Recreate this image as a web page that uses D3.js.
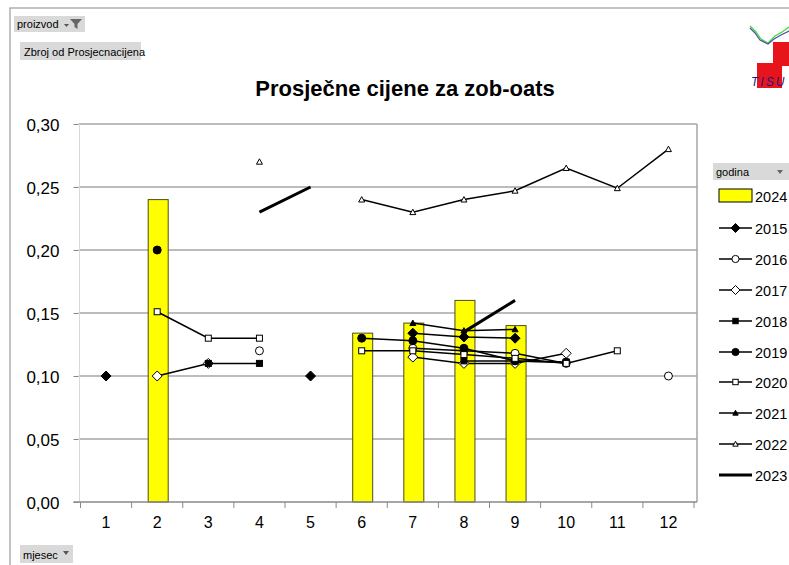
<!DOCTYPE html>
<html><head><meta charset="utf-8">
<script src="https://cdn.jsdelivr.net/npm/d3@7/dist/d3.min.js"></script>
<style>body{margin:0;background:#fff}svg{display:block;font-family:"Liberation Sans",Arial,sans-serif}</style>
</head><body><svg id="c" width="789" height="565"></svg>
<script>
const months = [1,2,3,4,5,6,7,8,9,10,11,12];
const yTicks = [0,0.05,0.10,0.15,0.20,0.25,0.30];
const bar2024 = [null,0.24,null,null,null,0.134,0.142,0.160,0.140,null,null,null];
const s2015 = [0.10,null,null,null,0.10,null,0.134,0.131,0.130,null,null,null];
const s2016 = [null,null,null,0.12,null,null,0.122,0.120,0.118,0.110,null,0.10];
const s2017 = [null,0.10,0.11,null,null,null,0.115,0.110,0.110,0.118,null,null];
const s2018 = [null,null,0.11,0.11,null,null,null,0.112,0.112,0.111,null,null];
const s2019 = [null,0.20,null,null,null,0.130,0.128,0.122,0.112,0.111,null,null];
const s2020 = [null,0.151,0.13,0.13,null,0.12,0.12,0.117,0.114,0.110,0.12,null];
const s2021 = [null,null,null,null,null,null,0.142,0.136,0.137,null,null,null];
const s2022 = [null,null,null,0.27,null,0.24,0.23,0.24,0.247,0.265,0.249,0.28];
const s2023 = [null,null,null,0.23,0.25,null,null,0.135,0.16,null,null,null];
const seriesNames = ["2015","2016","2017","2018","2019","2020","2021","2022","2023"];
const seriesVals = [s2015,s2016,s2017,s2018,s2019,s2020,s2021,s2022,s2023];
const markers = ["diamondF","circleO","diamondO","squareF","circleF","squareO","triF","triO","none"];

const svg = d3.select("#c");
svg.append("path").attr("d","M10,565 V8 H789").attr("fill","none").attr("stroke","#b0b0b0").attr("stroke-width",1.5);

const L=80.5,R=694,T=124,B=502;
const x = d3.scaleBand().domain(months).range([L,R]);
const y = d3.scaleLinear().domain([0,0.30]).range([B,T]);

svg.append("g").selectAll("line").data(yTicks.slice(1)).join("line")
 .attr("x1",L-2).attr("x2",R+3).attr("y1",d=>y(d)).attr("y2",d=>y(d))
 .attr("stroke","#a6a6a6").attr("stroke-width",1.5);
svg.append("line").attr("x1",L-1).attr("x2",L-1).attr("y1",T).attr("y2",B).attr("stroke","#d8d8d8");
svg.append("line").attr("x1",R+3).attr("x2",R+3).attr("y1",T).attr("y2",B).attr("stroke","#a6a6a6").attr("stroke-width",1.5);

const ya = svg.append("g").attr("transform",`translate(${L-2},0)`)
 .call(d3.axisLeft(y).tickValues(yTicks).tickFormat(d=>d3.format(".2f")(d).replace(".",",")).tickSize(5).tickPadding(14));
ya.select(".domain").remove();
ya.selectAll("line").attr("stroke","#888");
ya.selectAll("text").attr("font-size",17).attr("fill","#000").attr("font-family","Liberation Sans").attr("dy","0.36em");

const bw = 20;
svg.append("g").selectAll("rect").data(months.map((m,i)=>({m,v:bar2024[i]})).filter(d=>d.v!=null)).join("rect")
 .attr("x",d=>x(d.m)+x.bandwidth()/2-bw/2+1).attr("width",bw)
 .attr("y",d=>y(d.v)).attr("height",d=>B-y(d.v))
 .attr("fill","#ffff00").attr("stroke","#4d4d1a").attr("stroke-width",1);

const xa = svg.append("g").attr("transform",`translate(0,${B})`);
xa.append("line").attr("x1",L-7).attr("x2",R+3).attr("y1",0).attr("y2",0).attr("stroke","#888").attr("stroke-width",1.5);
xa.selectAll("line.t").data(months.concat([13])).join("line").attr("class","t")
 .attr("x1",(d)=>d<=12?x(d):R).attr("x2",(d)=>d<=12?x(d):R).attr("y1",0).attr("y2",6).attr("stroke","#888");
xa.selectAll("text").data(months).join("text")
 .attr("x",d=>x(d)+x.bandwidth()/2).attr("y",26).attr("text-anchor","middle")
 .attr("font-size",16).text(d=>d);

const cx = m=>x(m)+x.bandwidth()/2;
function drawMarker(g,type,px,py,s){
  s=s||1;
  if(type==="diamondF"||type==="diamondO"){
    const r=5*s;
    g.append("path").attr("d",`M${px},${py-r}L${px+r},${py}L${px},${py+r}L${px-r},${py}Z`)
     .attr("fill",type==="diamondF"?"#000":"#fff").attr("stroke","#000").attr("stroke-width",1);
  } else if(type==="circleF"||type==="circleO"){
    g.append("circle").attr("cx",px).attr("cy",py).attr("r",4*s)
     .attr("fill",type==="circleF"?"#000":"#fff").attr("stroke","#000").attr("stroke-width",1);
  } else if(type==="squareF"||type==="squareO"){
    const r=3*s;
    g.append("rect").attr("x",px-r).attr("y",py-r).attr("width",2*r).attr("height",2*r)
     .attr("fill",type==="squareF"?"#000":"#fff").attr("stroke","#000").attr("stroke-width",1);
  } else if(type==="triF"||type==="triO"){
    const r=3*s;
    g.append("path").attr("d",`M${px},${py-r}L${px+r},${py+r*0.8}L${px-r},${py+r*0.8}Z`)
     .attr("fill",type==="triF"?"#000":"#fff").attr("stroke","#000").attr("stroke-width",1);
  }
}
const lineGen = d3.line().defined(d=>d.v!=null).x(d=>cx(d.m)).y(d=>y(d.v));
seriesVals.forEach((vals,si)=>{
  const g = svg.append("g");
  const data = months.map((m,i)=>({m,v:vals[i]}));
  g.append("path").attr("d",lineGen(data)).attr("fill","none").attr("stroke","#000")
   .attr("stroke-width",seriesNames[si]==="2023"?3:1.5);
  data.filter(d=>d.v!=null).forEach(d=>drawMarker(g,markers[si],cx(d.m),y(d.v)));
});

svg.append("text").attr("x",405).attr("y",96).attr("text-anchor","middle")
 .attr("font-size",22).attr("font-weight","bold").text("Prosječne cijene za zob-oats");

function button(x0,y0,w,h,label){
  const g=svg.append("g");
  g.append("rect").attr("x",x0).attr("y",y0).attr("width",w).attr("height",h).attr("fill","#d9d9d9");
  g.append("text").attr("x",x0+3).attr("y",y0+h-4).attr("font-size",11).attr("fill","#000").text(label);
  return g;
}
const b1=button(14,16,71,16,"proizvod");
b1.append("path").attr("d","M64,24 h5 l-2.5,3z").attr("fill","#555");
b1.append("path").attr("d","M70,19 h12 l-4.5,5 v5 l-3,-2 v-3z").attr("fill","#666");
button(20,42,121,18,"Zbroj od Prosjecnacijena").select("text").attr("x",24);
const b3=button(713,163,76,17,"godina");
b3.append("path").attr("d","M777,170 h6 l-3,4z").attr("fill","#666");
const b4=button(20,545,53,18,"mjesec");
b4.append("path").attr("d","M63,551 h6 l-3,4z").attr("fill","#555");

const legY=[196,228,259,290,321,352,382,413,444,475];
const lg=svg.append("g");
lg.append("rect").attr("x",719).attr("y",legY[0]-7).attr("width",33).attr("height",13).attr("fill","#ffff00").attr("stroke","#000");
lg.append("text").attr("x",755).attr("y",legY[0]+6).attr("font-size",14.5).text("2024");
seriesNames.forEach((n,i)=>{
  const yy=legY[i+1];
  lg.append("line").attr("x1",719).attr("x2",752).attr("y1",yy).attr("y2",yy).attr("stroke","#000").attr("stroke-width",n==="2023"?3:1.5);
  drawMarker(lg,markers[i],735.5,yy,0.9);
  lg.append("text").attr("x",755).attr("y",yy+6).attr("font-size",14.5).text(n);
});

const lo=svg.append("g");
lo.append("rect").attr("x",773).attr("y",42).attr("width",16).attr("height",24).attr("fill","#e8141b");
lo.append("rect").attr("x",757).attr("y",63).attr("width",25).attr("height",25).attr("fill","#e8141b");
lo.append("path").attr("d","M750,26 L756,32 L761,39 L768,43 L775,36 L782,32 L789,27").attr("fill","none").attr("stroke","#33dd33").attr("stroke-width",1.2);
lo.append("path").attr("d","M750,28 L755,33 L760,40 L768,44 L774,39 L781,35 L789,31").attr("fill","none").attr("stroke","#5050a0").attr("stroke-width",1.2);
lo.append("text").attr("x",751).attr("y",86).attr("font-size",12).attr("font-style","italic").attr("fill","#1a1a80").attr("letter-spacing",2).text("TISU");
</script></body></html>
